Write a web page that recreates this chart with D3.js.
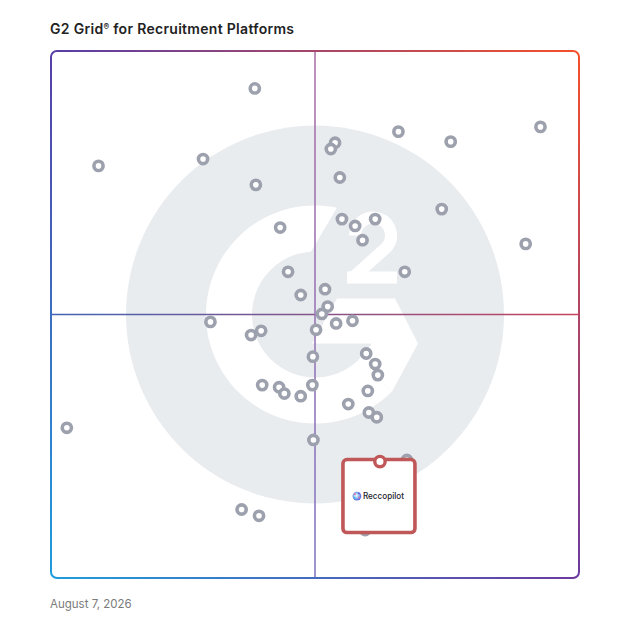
<!DOCTYPE html>
<html>
<head>
<meta charset="utf-8">
<script src="https://cdn.jsdelivr.net/npm/d3@7"></script>
<style>
    body { margin: 0; background: #fff; }
    svg { display: block; }
</style>
</head>
<body>
<div id="chart"></div>
<script>
// products on the grid: market presence (x) and satisfaction (y), 0-100
const marketPresence = [38.6, 9.0, 28.8, 38.8, 53.8, 53.0, 65.8, 75.7, 92.7, 54.7,
    74.0, 89.9, 43.4, 55.1, 57.6, 61.4, 59.0, 67.0, 44.9, 51.9,
    47.3, 52.4, 51.3, 30.2, 37.9, 39.8, 50.2, 54.0, 57.1, 49.6,
    59.7, 61.4, 61.9, 40.0, 43.2, 44.2, 47.3, 49.5, 60.0, 56.3,
    60.2, 61.7, 3.0, 49.7, 36.1, 39.4, 67.4, 59.5];
const satisfaction = [92.9, 78.2, 79.5, 74.6, 82.6, 81.4, 84.7, 82.8, 85.6, 76.0,
    70.0, 63.4, 66.5, 68.1, 66.8, 68.1, 64.1, 58.1, 58.1, 54.8,
    53.7, 51.5, 50.1, 48.6, 46.1, 46.9, 47.1, 48.3, 48.8, 42.0,
    42.6, 40.6, 38.5, 36.6, 36.2, 35.0, 34.5, 36.6, 35.5, 33.0,
    31.4, 30.5, 28.5, 26.2, 13.0, 11.8, 22.4, 9.1];

// highlighted product
const featuredName = ["Reccopilot"];
const featuredX = [62.3];
const featuredY = [22.1];

const titleText = "G2 Grid";
const titleRest = " for Recruitment Platforms";
const dateText = "August 7, 2026";

const width = 628, height = 628;
const gridLeft = 51, gridRight = 579, gridTop = 51, gridBottom = 578;

const svg = d3.select("#chart").append("svg")
    .attr("width", width)
    .attr("height", height);

const defs = svg.append("defs");

const x = d3.scaleLinear().domain([0, 100]).range([gridLeft, gridRight]);
const y = d3.scaleLinear().domain([0, 100]).range([gridBottom, gridTop]);

// helper for gradients in user space
function grad(id, x1, y1, x2, y2, c1, c2) {
    let g = defs.append("linearGradient")
        .attr("id", id)
        .attr("gradientUnits", "userSpaceOnUse")
        .attr("x1", x1).attr("y1", y1).attr("x2", x2).attr("y2", y2);
    g.append("stop").attr("offset", "0%").attr("stop-color", c1);
    g.append("stop").attr("offset", "100%").attr("stop-color", c2);
}

const cTL = "#573ea8", cTR = "#f5502a", cBR = "#6c3a9f", cBL = "#1f9ddc";

// title
let title = svg.append("text")
    .attr("x", 50)
    .attr("y", 33.5)
    .attr("font-family", "Inter, 'Noto Sans', sans-serif")
    .attr("font-weight", 600)
    .attr("font-size", 14)
    .attr("letter-spacing", 0.3)
    .attr("fill", "#222");
title.append("tspan").text(titleText);
title.append("tspan").attr("font-size", 8.5).attr("dy", -4).text("®");
title.append("tspan").attr("dy", 4).text(titleRest);

// G2 watermark
const cx = x(50), cy = y(50);
const wm = svg.append("g").attr("class", "watermark");
wm.append("circle")
    .attr("cx", cx).attr("cy", cy).attr("r", 189)
    .attr("fill", "#e9ecef");

// G ring
const rOut = 109, rIn = 63;
const deg = Math.PI / 180;
let ring = d3.path();
let a0 = -90 + 11.6, a1 = 45;          // outer: top cut to lower right
let b0 = 48, b1 = -90 - 3.7 + 360;     // inner: lower right back to top
ring.moveTo(cx + rOut * Math.cos(a0 * deg), cy + rOut * Math.sin(a0 * deg));
ring.arc(cx, cy, rOut, a0 * deg, a1 * deg, true);
ring.lineTo(cx + rIn * Math.cos(b0 * deg), cy + rIn * Math.sin(b0 * deg));
ring.arc(cx, cy, rIn, b0 * deg, b1 * deg, false);
ring.closePath();
wm.append("path").attr("d", ring.toString()).attr("fill", "#fff");

// chevron crossbar
const chevron = [[22, -16], [80, -16], [103, 29], [77, 77], [42, 47], [57, 29], [-3, 29]];
wm.append("path")
    .attr("d", d3.line()(chevron.map(p => [cx + p[0], cy + p[1]])) + "Z")
    .attr("fill", "#fff");

// the "2"
wm.append("path")
    .attr("d", `M${cx + 40},${cy - 79} A18,18 0 1 1 ${cx + 71.8},${cy - 67.4} L${cx + 38},${cy - 37}`)
    .attr("fill", "none")
    .attr("stroke", "#fff")
    .attr("stroke-width", 12);
wm.append("rect")
    .attr("x", cx + 32).attr("y", cy - 43)
    .attr("width", 50).attr("height", 12)
    .attr("fill", "#fff");

// quadrant lines
grad("hgrad", gridLeft, 0, gridRight, 0, "#4263b6", "#c6445c");
grad("vgrad", 0, gridTop, 0, gridBottom, "#ad74a8", "#8479c4");
svg.append("line")
    .attr("x1", gridLeft).attr("x2", gridRight)
    .attr("y1", y(50)).attr("y2", y(50))
    .attr("stroke", "url(#hgrad)")
    .attr("stroke-width", 1.5);
svg.append("line")
    .attr("x1", x(50)).attr("x2", x(50))
    .attr("y1", gridTop).attr("y2", gridBottom)
    .attr("stroke", "url(#vgrad)")
    .attr("stroke-width", 1.6);

// frame, one gradient per side
const rc = 6;
const L = gridLeft, R = gridRight, T = gridTop, B = gridBottom;
grad("gTop", L, 0, R, 0, cTL, cTR);
grad("gRight", 0, T, 0, B, cTR, cBR);
grad("gBottom", L, 0, R, 0, cBL, cBR);
grad("gLeft", 0, T, 0, B, cTL, cBL);
const sides = [
    ["gTop", `M${L},${T + rc} A${rc},${rc} 0 0 1 ${L + rc},${T} L${R - rc},${T} A${rc},${rc} 0 0 1 ${R},${T + rc}`],
    ["gRight", `M${R},${T + rc} L${R},${B - rc} A${rc},${rc} 0 0 1 ${R - rc},${B}`],
    ["gBottom", `M${R - rc},${B} L${L + rc},${B} A${rc},${rc} 0 0 1 ${L},${B - rc}`],
    ["gLeft", `M${L},${B - rc} L${L},${T + rc}`]
];
svg.selectAll(".frame").data(sides).enter().append("path")
    .attr("class", "frame")
    .attr("d", d => d[1])
    .attr("fill", "none")
    .attr("stroke", d => `url(#${d[0]})`)
    .attr("stroke-width", 2);

// products
svg.selectAll(".product").data(d3.range(marketPresence.length)).enter().append("circle")
    .attr("class", "product")
    .attr("cx", i => x(marketPresence[i]))
    .attr("cy", i => y(satisfaction[i]))
    .attr("r", 4.6)
    .attr("fill", "#fff")
    .attr("stroke", "#9ca1ad")
    .attr("stroke-width", 3.6);

// featured product card
const fx = x(featuredX[0]), fy = y(featuredY[0]);
const card = svg.append("g").attr("class", "featured");
card.append("rect")
    .attr("x", fx - 37).attr("y", fy - 2)
    .attr("width", 72).attr("height", 73)
    .attr("rx", 4)
    .attr("fill", "#fff")
    .attr("stroke", "#c05859")
    .attr("stroke-width", 3.6);

// small globe logo
let rg = defs.append("radialGradient").attr("id", "globe").attr("cx", "45%").attr("cy", "45%");
rg.append("stop").attr("offset", "0%").attr("stop-color", "#f2f6ff");
rg.append("stop").attr("offset", "50%").attr("stop-color", "#9ccff2");
rg.append("stop").attr("offset", "100%").attr("stop-color", "#5b6fe0");
card.append("circle")
    .attr("cx", fx - 23).attr("cy", fy + 34.5)
    .attr("r", 4.4)
    .attr("fill", "url(#globe)");
const globeDots = [[-2, -2, "#e07ab8"], [2, 1.5, "#d66fb0"], [-2.5, 2, "#48b6e6"], [2, -2.5, "#6a5fe0"]];
card.selectAll(".gdot").data(globeDots).enter().append("circle")
    .attr("class", "gdot")
    .attr("cx", d => fx - 23 + d[0])
    .attr("cy", d => fy + 34.5 + d[1])
    .attr("r", 1)
    .attr("fill", d => d[2]);
card.append("text")
    .attr("x", fx - 17).attr("y", fy + 37.5)
    .attr("font-family", "Inter, 'Noto Sans', sans-serif")
    .attr("font-weight", 500)
    .attr("font-size", 9)
    .attr("textLength", 41)
    .attr("lengthAdjust", "spacingAndGlyphs")
    .attr("fill", "#1d1d2b")
    .text(featuredName[0]);

card.append("circle")
    .attr("cx", fx).attr("cy", fy)
    .attr("r", 5.2)
    .attr("fill", "#fff")
    .attr("stroke", "#c05859")
    .attr("stroke-width", 3.4);

// date
svg.append("text")
    .attr("x", 50)
    .attr("y", 608)
    .attr("font-family", "Inter, 'Noto Sans', sans-serif")
    .attr("font-size", 11.5)
    .attr("fill", "#7a7a7a")
    .text(dateText);
</script>
</body>
</html>
